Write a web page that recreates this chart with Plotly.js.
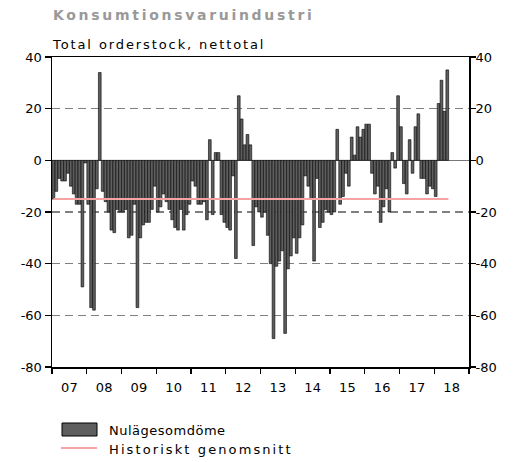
<!DOCTYPE html>
<html>
<head>
<meta charset="utf-8">
<script src="https://cdn.plot.ly/plotly-3.0.1.min.js"></script>
<style>
html,body{margin:0;padding:0;background:#ffffff;}
#chart{width:515px;height:462px;}
</style>
</head>
<body>
<div id="chart"></div>
<script>
// ---- data (monthly net balances, Jan 2007 - May 2018) ----
const yearLabels = ['07','08','09','10','11','12','13','14','15','16','17','18'];
const v2007 = [-15, -12, -7, -8, -8, -5, -10, -13, -17, -17, -49, -1];
const v2008 = [-17, -57, -58, -11, 34, -12, -16, -20, -27, -28, -19, -20];
const v2009 = [-20, -19, -30, -29, -17, -57, -30, -25, -24, -24, -19, -10];
const v2010 = [-20, -18, -13, -16, -19, -23, -26, -27, -19, -27, -21, -17];
const v2011 = [-8, -10, -17, -17, -16, -23, 8, -21, 3, 3, -21, -24];
const v2012 = [-26, -27, -6, -38, 25, 16, 6, 10, 6, -33, -18, -20];
const v2013 = [-22, -20, -29, -40, -69, -41, -39, -35, -67, -42, -37, -30];
const v2014 = [-36, -30, -25, -6, -10, -15, -39, -7, -26, -24, -19, -20];
const v2015 = [-21, -20, 12, -17, -14, -5, -10, 9, 2, 13, 9, 12];
const v2016 = [14, 14, -5, -13, -10, -24, -18, -11, -20, 3, -3, 25];
const v2017 = [13, -9, -13, 8, -5, 13, 18, -7, -7, -13, -10, -11];
const v2018 = [-14, 22, 31, 19, 35];
const histAvg = -15;
const yTickVals = [-80, -60, -40, -20, 0, 20, 40];
const yTickText = ['-80', '-60', '-40', '-20', '0', '20', '40'];
const seriesName = 'Nulägesomdöme';
const avgName = 'Historiskt genomsnitt';
const titleText = 'Konsumtionsvaruindustri';
const subtitleText = 'Total orderstock, nettotal';

const values = [].concat(v2007, v2008, v2009, v2010, v2011, v2012, v2013, v2014, v2015, v2016, v2017, v2018);
const monthIndex = values.map((_, i) => i);
const labelPos = yearLabels.map((_, k) => k * 12 + 5.5);
const boundaryPos = yearLabels.map((_, k) => k * 12 - 0.5).concat([yearLabels.length * 12 - 0.5]);
const xRange = [-0.5, yearLabels.length * 12 - 0.5];

// pixel helpers for legend/title placement (plot area: x 52..469, y 57..367)
const PL = 52, PR = 469, PT = 57, PB = 367;
const px = x => (x - PL) / (PR - PL);
const py = y => (PB - y) / (PB - PT);

const FONT = 'DejaVu Sans, Verdana, sans-serif';

const traces = [
  {
    type: 'bar', name: seriesName,
    x: monthIndex, y: values,
    marker: {color: '#5e5e5e', line: {color: '#000000', width: 0.6}},
    hoverinfo: 'skip', xaxis: 'x', yaxis: 'y'
  },
  {
    type: 'scatter', mode: 'lines', name: avgName,
    x: [monthIndex[0], monthIndex[monthIndex.length - 1] + 0.4], y: [histAvg, histAvg],
    line: {color: '#f5a3a3', width: 2},
    hoverinfo: 'skip', xaxis: 'x', yaxis: 'y'
  },
  {
    type: 'scatter', mode: 'markers', x: [0], y: [0],
    marker: {opacity: 0}, hoverinfo: 'skip', xaxis: 'x2', yaxis: 'y2', showlegend: false
  }
];

const axisY = {
  range: [-80, 40], tickmode: 'array', tickvals: yTickVals, ticktext: yTickText,
  ticks: 'outside', ticklen: 6, tickwidth: 1.2, tickcolor: '#000',
  tickfont: {family: FONT, size: 13, color: '#000'}
};

const layout = {
  width: 515, height: 462,
  margin: {l: PL, r: 515 - PR, t: PT, b: 462 - PB, pad: 0},
  paper_bgcolor: '#ffffff', plot_bgcolor: '#ffffff',
  showlegend: false,
  bargap: 0.06,
  font: {family: FONT, size: 13, color: '#000'},
  xaxis: {
    range: xRange, tickmode: 'array', tickvals: labelPos, ticktext: yearLabels,
    ticks: '', showline: true, mirror: true, linecolor: '#000', linewidth: 1.5,
    showgrid: false, zeroline: false, ticklabelstandoff: 8,
    tickfont: {family: FONT, size: 13, color: '#000'}
  },
  xaxis2: {
    overlaying: 'x', anchor: 'y', side: 'bottom', range: xRange,
    tickmode: 'array', tickvals: boundaryPos, ticks: 'outside', ticklen: 6,
    tickwidth: 1.2, tickcolor: '#000', showticklabels: false,
    showgrid: false, zeroline: false, showline: false
  },
  yaxis: Object.assign({}, axisY, {
    showline: true, mirror: true, linecolor: '#000', linewidth: 1.5,
    showgrid: true, gridcolor: '#808080', gridwidth: 1.6, griddash: '8px,5px',
    zeroline: true, zerolinecolor: '#777777', zerolinewidth: 1.5,
    ticklabelstandoff: 0
  }),
  yaxis2: Object.assign({}, axisY, {
    overlaying: 'y', anchor: 'x', side: 'right',
    showgrid: false, zeroline: false, showline: false,
    ticklabelstandoff: -3
  }),
  shapes: [
    {type: 'rect', xref: 'paper', yref: 'paper',
     x0: px(62), x1: px(97), y0: py(436), y1: py(423),
     fillcolor: '#5e5e5e', line: {color: '#000', width: 1}},
    {type: 'line', xref: 'paper', yref: 'paper',
     x0: px(61), x1: px(97), y0: py(448), y1: py(448),
     line: {color: '#f5a3a3', width: 2}}
  ],
  annotations: [
    {xref: 'paper', yref: 'paper', x: px(51), y: py(15), xanchor: 'left', yanchor: 'middle',
     text: '<b>' + titleText + '</b>', showarrow: false,
     font: {family: FONT, size: 14, color: '#999999'}},
    {xref: 'paper', yref: 'paper', x: px(51), y: py(45), xanchor: 'left', yanchor: 'middle',
     text: subtitleText, showarrow: false,
     font: {family: FONT, size: 13, color: '#000000'}},
    {xref: 'paper', yref: 'paper', x: px(107), y: py(430), xanchor: 'left', yanchor: 'middle',
     text: seriesName, showarrow: false,
     font: {family: FONT, size: 13, color: '#000000'}},
    {xref: 'paper', yref: 'paper', x: px(107), y: py(449), xanchor: 'left', yanchor: 'middle',
     text: avgName, showarrow: false,
     font: {family: FONT, size: 13, color: '#000000'}}
  ]
};

const spacing = {};
spacing[titleText] = '2.7px';
spacing[subtitleText] = '1.9px';
spacing[seriesName] = '0.5px';
spacing[avgName] = '2.1px';

Plotly.newPlot('chart', traces, layout, {displayModeBar: false, staticPlot: true}).then(function () {
  document.querySelectorAll('.annotation-text').forEach(function (t) {
    const s = spacing[t.textContent];
    if (!s) return;
    const bb = t.getBBox();
    t.setAttribute('text-anchor', 'start');
    t.setAttribute('x', bb.x);
    t.querySelectorAll('tspan').forEach(function (ts) {
      if (ts.hasAttribute('x')) ts.setAttribute('x', bb.x);
    });
    t.style.letterSpacing = s;
  });
});
</script>
</body>
</html>
